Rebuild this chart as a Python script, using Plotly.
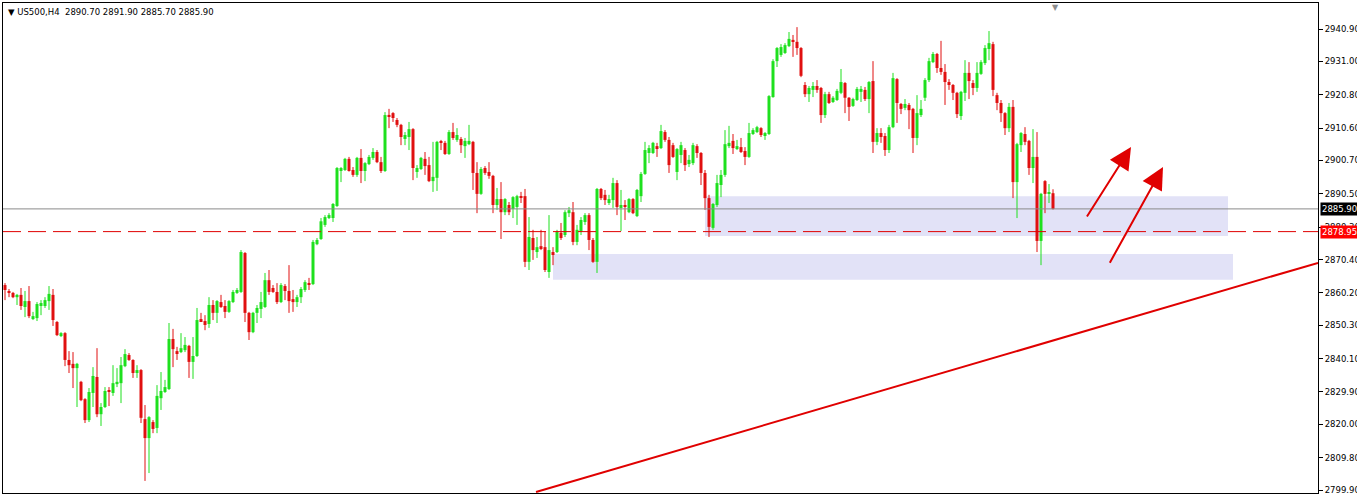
import plotly.graph_objects as go

# ---- data (US500, H4) ----
opens = [2862.6,2860.5,2860.2,2858.9,2859.6,2855.9,2857.7,2852.2,2852.5,2856.2,2856.2,2857.7,2859.6,2851.3,2847.0,2847.9,2839.7,2838.5,2837.2,2833.0,
2827.7,2821.3,2829.6,2834.5,2823.1,2825.3,2830.2,2829.6,2832.3,2832.6,2837.8,2841.2,2839.7,2835.7,2836.6,2821.6,2815.8,2820.7,2818.9,2828.0,
2829.9,2830.8,2846.1,2842.4,2842.1,2842.7,2844.0,2839.1,2840.9,2852.2,2851.6,2850.7,2856.5,2854.1,2857.4,2856.2,2854.4,2857.4,2860.2,2860.5,
2872.4,2854.1,2848.2,2854.1,2855.3,2855.9,2864.1,2861.7,2860.5,2857.4,2862.3,2860.8,2858.3,2857.4,2858.9,2861.1,2863.2,2862.9,2875.1,2876.7,
2881.0,2883.1,2883.1,2886.8,2897.5,2897.8,2901.2,2897.8,2896.3,2901.5,2897.5,2899.6,2901.5,2903.3,2900.2,2897.5,2914.6,2915.2,2913.1,2911.6,
2907.3,2907.9,2910.3,2897.2,2898.1,2901.2,2899.3,2894.4,2895.4,2906.4,2906.1,2902.7,2909.4,2907.0,2907.3,2905.1,2905.7,2906.4,2896.9,2890.5,
2898.4,2897.2,2896.0,2887.1,2888.9,2884.9,2887.1,2885.9,2886.5,2889.8,2889.8,2869.7,2877.0,2872.7,2874.5,2874.2,2866.6,2872.7,2872.7,2878.6,
2877.9,2884.6,2884.9,2875.8,2878.9,2881.9,2884.0,2876.4,2869.7,2892.0,2890.2,2887.7,2888.6,2893.8,2886.2,2887.1,2884.9,2888.9,2883.7,2889.8,
2896.6,2903.0,2903.0,2905.1,2904.5,2909.4,2907.0,2905.4,2897.2,2902.4,2903.9,2899.6,2899.9,2905.1,2903.0,2896.9,2889.2,2880.1,2887.1,2893.2,
2896.3,2905.1,2906.7,2904.2,2904.8,2903.6,2901.8,2908.8,2909.4,2910.6,2908.2,2908.8,2920.1,2931.1,2933.0,2933.6,2935.7,2937.6,2937.0,2935.1,
2923.8,2921.0,2922.3,2923.5,2922.9,2914.6,2921.0,2918.6,2919.2,2921.4,2924.4,2919.9,2917.4,2919.2,2921.7,2922.3,2919.5,2925.0,2906.4,2909.1,
2908.2,2903.9,2910.9,2925.6,2918.0,2916.8,2917.7,2916.5,2907.6,2914.6,2919.9,2925.3,2930.8,2933.3,2929.0,2927.8,2924.7,2923.8,2921.4,2914.3,
2921.4,2927.5,2924.4,2922.9,2927.2,2930.5,2934.8,2936.3,2920.7,2918.3,2915.2,2910.6,2917.1,2894.1,2905.4,2908.8,2906.7,2898.4,2901.8,2876.1,
2894.4,2890.5,2890.7]
highs = [2863.2,2861.4,2860.5,2859.9,2861.7,2860.8,2862.3,2854.4,2857.4,2858.0,2858.9,2862.3,2861.4,2851.6,2848.2,2848.2,2842.4,2842.1,2838.8,2833.3,
2828.0,2831.1,2837.5,2843.3,2826.5,2831.4,2831.4,2838.1,2837.2,2840.6,2843.0,2841.8,2839.9,2838.1,2836.9,2825.9,2822.5,2821.3,2832.0,2836.0,
2833.6,2851.0,2849.2,2843.7,2847.9,2846.7,2844.3,2846.7,2855.6,2854.1,2853.4,2858.9,2858.0,2858.0,2859.6,2858.0,2858.0,2861.1,2861.7,2873.3,
2872.7,2854.4,2854.4,2856.5,2860.5,2866.3,2867.2,2862.6,2863.2,2863.2,2862.9,2868.7,2861.1,2859.6,2862.0,2864.1,2864.8,2876.4,2877.0,2883.1,
2884.0,2884.6,2887.7,2898.7,2898.7,2901.5,2901.8,2898.7,2901.8,2904.2,2900.2,2902.4,2904.5,2903.9,2901.8,2915.5,2916.5,2915.5,2913.7,2911.9,
2909.4,2912.5,2910.6,2899.3,2901.8,2903.3,2901.8,2906.4,2906.7,2907.0,2906.7,2910.0,2912.2,2910.6,2907.9,2907.6,2911.6,2906.7,2900.2,2898.7,
2899.0,2900.2,2896.3,2892.3,2894.1,2889.2,2888.0,2889.8,2890.2,2891.1,2892.0,2883.4,2879.5,2877.3,2879.5,2878.9,2884.0,2874.2,2879.5,2881.6,
2885.5,2886.5,2888.0,2881.0,2883.4,2884.6,2884.6,2877.0,2892.3,2892.3,2891.7,2890.2,2895.4,2894.7,2891.7,2888.6,2889.2,2889.2,2892.0,2897.2,
2906.4,2905.4,2906.4,2906.1,2911.6,2910.0,2907.9,2906.1,2904.5,2906.4,2904.5,2902.4,2906.1,2905.7,2903.3,2897.8,2890.2,2887.7,2896.3,2897.8,
2910.0,2911.3,2908.8,2907.0,2907.6,2904.8,2912.2,2910.6,2911.3,2910.9,2909.4,2920.7,2931.7,2935.4,2936.3,2936.6,2940.0,2939.1,2941.5,2935.4,
2924.7,2923.5,2924.7,2925.3,2923.2,2921.7,2921.7,2920.4,2922.6,2928.7,2924.7,2920.1,2919.9,2923.2,2923.5,2923.2,2925.0,2931.1,2910.6,2910.6,
2909.1,2911.6,2927.5,2925.9,2918.3,2919.5,2918.3,2916.8,2920.7,2919.2,2925.9,2932.1,2933.9,2933.6,2937.3,2930.2,2925.6,2924.1,2921.7,2922.0,
2931.4,2930.8,2925.3,2930.8,2931.4,2936.0,2940.3,2937.0,2921.4,2919.2,2915.5,2918.3,2919.2,2906.1,2909.4,2910.9,2907.0,2910.3,2909.4,2890.8,
2894.7,2893.5,2891.9]
lows = [2858.0,2858.9,2858.6,2856.5,2855.0,2852.8,2852.5,2851.9,2851.6,2853.4,2855.6,2855.0,2850.1,2847.0,2846.7,2837.8,2835.7,2831.1,2825.3,2827.1,
2820.4,2820.7,2825.3,2822.2,2819.5,2825.0,2825.6,2828.7,2831.4,2826.5,2837.5,2839.4,2834.2,2834.2,2820.4,2802.7,2805.1,2817.3,2817.3,2824.4,
2829.6,2830.5,2837.5,2839.7,2841.8,2842.1,2834.2,2833.9,2840.6,2851.3,2848.8,2849.5,2851.9,2851.0,2855.6,2852.5,2854.1,2857.1,2859.9,2860.2,
2851.3,2845.8,2847.9,2851.0,2852.5,2855.6,2859.6,2860.2,2856.8,2857.1,2858.0,2854.1,2854.4,2855.9,2857.1,2860.5,2861.1,2862.6,2874.8,2876.4,
2880.4,2882.8,2881.9,2886.5,2894.1,2897.5,2897.3,2895.7,2895.7,2893.8,2894.4,2899.3,2900.9,2899.9,2896.9,2897.2,2910.6,2912.5,2910.9,2905.4,
2905.4,2903.9,2894.7,2895.4,2897.8,2896.3,2894.1,2891.1,2891.4,2903.9,2902.4,2902.4,2907.0,2906.4,2903.0,2901.5,2905.4,2891.7,2884.6,2890.2,
2896.3,2895.1,2884.6,2885.6,2876.7,2884.0,2884.0,2883.1,2881.0,2887.7,2868.1,2867.2,2870.3,2870.9,2873.3,2866.6,2864.8,2868.7,2872.4,2876.4,
2877.3,2883.4,2874.8,2874.8,2877.9,2881.0,2873.3,2869.4,2866.3,2888.6,2887.1,2887.1,2886.2,2884.0,2879.1,2882.5,2884.6,2884.3,2883.4,2888.0,
2896.3,2899.9,2902.7,2901.8,2904.2,2906.4,2896.9,2901.5,2894.7,2899.9,2897.5,2898.7,2899.3,2901.5,2893.2,2885.6,2877.3,2879.5,2886.5,2889.5,
2895.7,2904.5,2902.7,2903.9,2903.0,2899.3,2901.5,2908.5,2909.1,2907.9,2907.0,2908.5,2919.9,2929.3,2932.4,2933.3,2935.4,2932.4,2933.0,2926.2,
2920.1,2918.6,2920.1,2921.4,2912.2,2913.7,2918.0,2918.3,2918.9,2921.0,2915.2,2912.8,2917.1,2918.9,2918.6,2918.9,2915.2,2903.0,2905.4,2906.1,
2902.1,2903.0,2910.6,2912.2,2914.9,2916.1,2910.3,2903.0,2905.4,2914.0,2918.9,2924.7,2930.5,2927.5,2926.9,2917.7,2922.3,2919.2,2913.7,2913.1,
2918.9,2919.5,2920.7,2921.7,2926.9,2929.9,2931.4,2920.4,2916.1,2912.5,2908.5,2909.4,2889.2,2883.1,2903.3,2905.4,2896.3,2893.8,2872.7,2868.7,
2884.6,2887.7,2885.7]
closes = [2861.1,2860.2,2858.9,2859.6,2856.2,2857.7,2853.1,2853.1,2856.8,2857.1,2858.0,2859.9,2851.9,2847.3,2847.9,2839.7,2838.1,2837.2,2838.5,2827.4,
2821.3,2829.9,2834.8,2823.1,2825.3,2830.2,2829.9,2832.6,2833.0,2838.1,2841.5,2839.7,2835.7,2836.6,2822.0,2815.8,2822.2,2818.6,2828.7,2830.2,
2831.4,2846.1,2843.0,2841.8,2843.3,2844.3,2839.1,2840.9,2851.9,2851.6,2850.4,2856.5,2854.1,2857.7,2855.9,2854.4,2857.7,2860.5,2861.1,2872.7,
2854.1,2848.2,2854.1,2855.6,2857.4,2864.1,2860.5,2860.5,2857.4,2862.6,2860.8,2857.7,2857.4,2858.9,2861.4,2863.5,2862.9,2875.8,2876.4,2882.1,
2883.4,2884.0,2887.4,2898.4,2898.4,2901.2,2897.5,2896.3,2901.5,2897.5,2899.9,2901.8,2903.3,2900.2,2897.5,2914.6,2914.3,2913.7,2911.6,2907.9,
2908.5,2910.3,2898.4,2898.4,2901.5,2899.0,2894.4,2895.7,2906.4,2906.1,2902.7,2909.4,2907.6,2908.5,2905.4,2906.7,2906.7,2896.9,2890.5,2898.1,
2896.9,2896.0,2887.1,2888.9,2884.9,2888.9,2884.9,2889.5,2889.8,2889.5,2869.7,2877.3,2873.3,2874.2,2873.9,2867.2,2873.3,2871.8,2878.9,2877.0,
2884.9,2885.5,2875.8,2879.5,2882.5,2884.0,2876.4,2869.7,2892.0,2889.2,2888.6,2888.9,2893.8,2886.5,2887.1,2886.5,2888.9,2884.6,2891.7,2896.6,
2903.9,2904.5,2906.1,2904.5,2909.7,2907.0,2899.3,2901.8,2904.2,2905.4,2899.3,2900.9,2905.4,2903.0,2896.9,2889.2,2880.4,2887.4,2893.8,2896.3,
2905.7,2906.1,2904.5,2905.1,2903.3,2901.8,2909.1,2910.0,2910.9,2908.5,2909.1,2920.4,2931.1,2935.1,2935.4,2936.0,2937.9,2937.0,2935.1,2926.6,
2921.0,2922.9,2923.5,2922.3,2914.6,2921.0,2918.3,2919.9,2922.0,2924.7,2919.9,2917.1,2919.5,2922.6,2922.6,2919.5,2924.7,2906.4,2909.1,2907.9,
2903.9,2910.9,2925.9,2918.3,2916.5,2918.0,2916.1,2907.6,2915.2,2916.5,2925.3,2931.1,2933.3,2929.0,2927.8,2924.7,2923.8,2921.4,2914.9,2921.7,
2927.5,2925.0,2922.9,2927.5,2930.8,2935.1,2936.6,2922.3,2918.3,2915.2,2910.6,2917.1,2894.1,2905.7,2909.1,2906.4,2898.4,2901.8,2876.1,2890.5,
2890.5,2890.8,2885.9]

tick_labels = ["2940.90","2931.00","2920.80","2910.60","2900.70","2890.50","2880.30","2870.40",
               "2860.20","2850.30","2840.10","2829.90","2820.00","2809.80","2799.90"]
tick_values = [float(t) for t in tick_labels]

bid_price = 2885.90
level_price = 2878.95
title_text = "\u25BC US500,H4  2890.70 2891.90 2885.70 2885.90"

UP = "#1fe01f"
DN = "#e01010"
FONT = "DejaVu Sans"

n = len(closes)
idx = list(range(n))
bull = [c >= o for o, c in zip(opens, closes)]

fig = go.Figure()

# wicks
for flag, col in ((True, UP), (False, DN)):
    wx, wy = [], []
    for i in idx:
        if bull[i] == flag:
            wx += [i, i, None]
            wy += [lows[i], highs[i], None]
    fig.add_trace(go.Scatter(x=wx, y=wy, mode="lines", line=dict(color=col, width=1),
                             hoverinfo="skip", showlegend=False))

# bodies
bases = [min(o, c) for o, c in zip(opens, closes)]
heights = [max(abs(c - o), 0.35) for o, c in zip(opens, closes)]
colors = [UP if b else DN for b in bull]
fig.add_trace(go.Bar(x=idx, y=heights, base=bases, width=0.75,
                     marker=dict(color=colors, line=dict(width=0)), showlegend=False))

x_left, x_right = -0.5, 328.25
y_low, y_high = 2799.0, 2948.88

shapes = [
    # support zones
    dict(type="rect", xref="x", yref="y", x0=175, x1=305.75, y0=2877.6, y1=2889.8,
         fillcolor="#e2e2f7", line=dict(width=0), layer="below"),
    dict(type="rect", xref="x", yref="y", x0=137, x1=307, y0=2864.2, y1=2872.1,
         fillcolor="#e2e2f7", line=dict(width=0), layer="below"),
    # bid line
    dict(type="line", xref="paper", yref="y", x0=0, x1=1, y0=bid_price, y1=bid_price,
         line=dict(color="#8a8a8a", width=1)),
    # level line
    dict(type="line", xref="paper", yref="y", x0=0, x1=1, y0=level_price, y1=level_price,
         line=dict(color="#e00000", width=1, dash="18px,7px")),
    # trend line
    dict(type="line", xref="x", yref="y", x0=132.75, y0=2799.3, x1=328.25, y1=2869.4,
         line=dict(color="#e00000", width=2)),
]

annotations = [
    dict(xref="paper", yref="paper", x=0, y=1, xanchor="left", yanchor="top",
         xshift=3, yshift=-2, text=title_text, showarrow=False,
         font=dict(family=FONT, size=8.5, color="black")),
    dict(xref="paper", yref="y", x=1, y=bid_price, xanchor="left", yanchor="middle",
         xshift=2, text="2885.90", showarrow=False, bgcolor="black", borderpad=1,
         font=dict(family=FONT, size=8.5, color="white")),
    dict(xref="paper", yref="y", x=1, y=level_price, xanchor="left", yanchor="middle",
         xshift=2, text="2878.95", showarrow=False, bgcolor="#ff0000", borderpad=1,
         font=dict(family=FONT, size=8.5, color="white")),
    # arrows
    dict(xref="x", yref="y", axref="x", ayref="y", x=281.5, y=2904.8, ax=270.25, ay=2883.1,
         text="", showarrow=True, arrowhead=2, arrowsize=2.2, arrowwidth=2, arrowcolor="#e00000"),
    dict(xref="x", yref="y", axref="x", ayref="y", x=289.5, y=2898.7, ax=276.0, ay=2869.0,
         text="", showarrow=True, arrowhead=2, arrowsize=2.2, arrowwidth=2, arrowcolor="#e00000"),
    # chart shift marker
    dict(xref="x", yref="paper", x=262.5, y=1, yanchor="top", yshift=2, text="\u25BC",
         showarrow=False, font=dict(family=FONT, size=8, color="#8c8c8c")),
]

fig.update_layout(
    width=1357, height=497,
    margin=dict(l=3, r=39, t=3, b=4),
    paper_bgcolor="white", plot_bgcolor="white",
    showlegend=False, barmode="overlay",
    shapes=shapes, annotations=annotations,
    xaxis=dict(range=[x_left, x_right], showgrid=False, zeroline=False, showticklabels=False,
               ticks="", showline=True, linecolor="black", linewidth=1, mirror=True,
               fixedrange=True, automargin=False),
    yaxis=dict(range=[y_low, y_high], side="right", showgrid=False, zeroline=False,
               tickvals=tick_values, ticktext=tick_labels, ticks="outside", ticklen=4,
               tickcolor="black", showline=True, linecolor="black", linewidth=1, mirror=True,
               tickfont=dict(family=FONT, size=8.5, color="black"), automargin=False,
               fixedrange=True),
)

fig.write_html("out.html", config={"displayModeBar": False},
               post_script="document.body.style.margin='0px';document.body.style.overflow='hidden';")
